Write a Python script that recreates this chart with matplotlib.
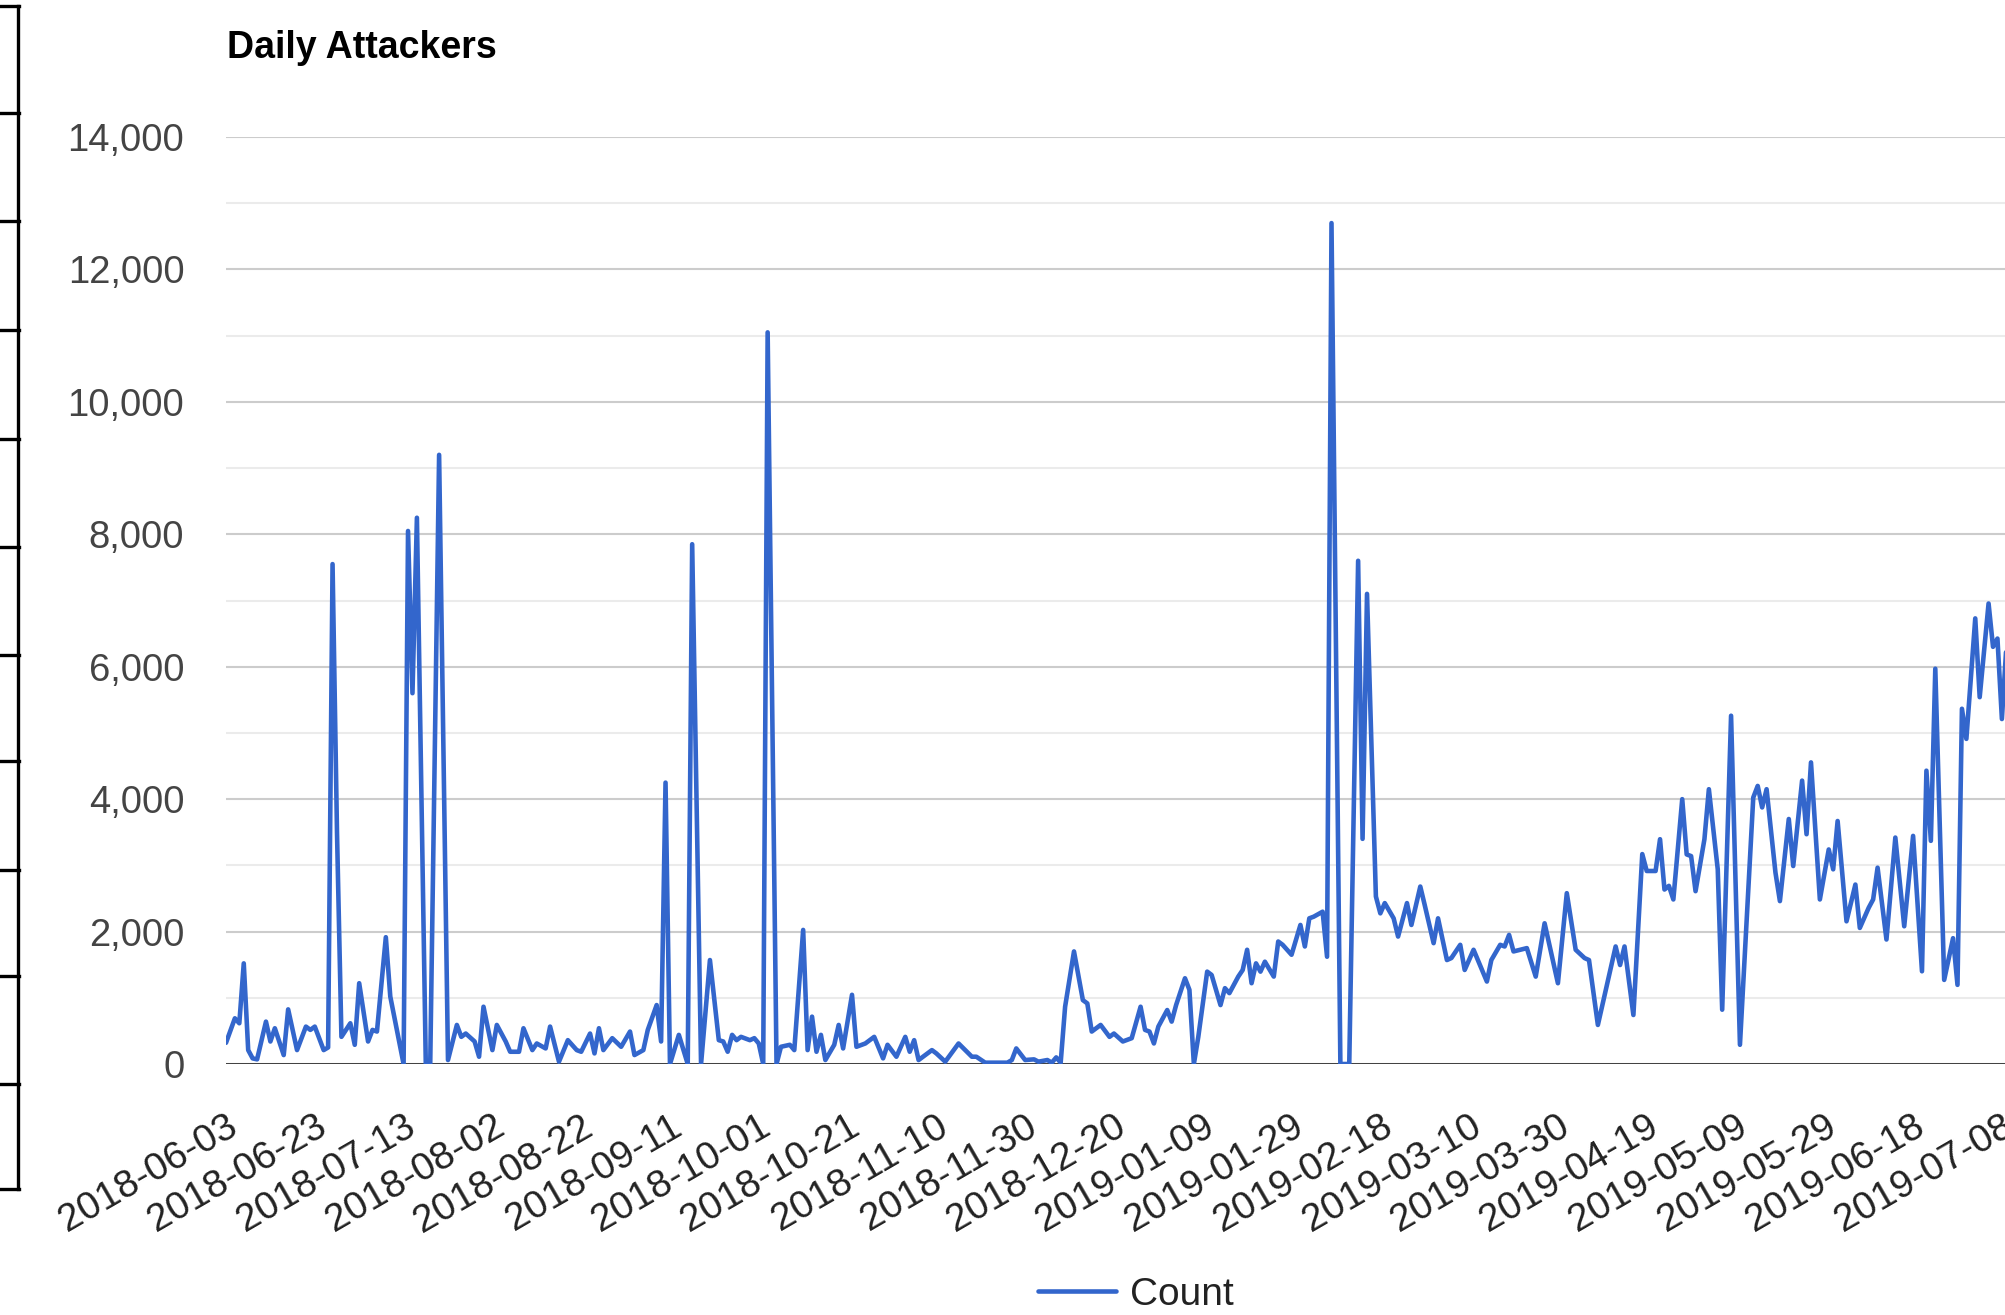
import numpy as np
import matplotlib
matplotlib.use("Agg")
import matplotlib.pyplot as plt
import matplotlib.dates as mdates
from matplotlib.lines import Line2D

# days counted from 2018-06-03
start_date = np.datetime64("2018-06-03")

day_offset = [0, 2, 3, 4, 5, 6, 7, 9, 10, 11, 13, 14, 16, 18, 19, 20, 22, 23, 24, 25, 26,
              28, 29, 30, 32, 33, 34, 36, 37, 39, 40, 41, 42, 43, 45, 46, 48, 50,
              52, 53, 54, 56, 57, 58, 60, 61, 63, 64, 66, 67, 69, 70, 72, 73, 75, 77, 79,
              80, 82, 83, 84, 85, 87, 89, 91, 92, 94, 95, 97, 98, 99, 100, 102, 104, 105,
              107, 109, 111, 112, 113, 114, 115, 116, 118, 119, 120, 121, 122, 124, 125,
              127, 128, 130, 131, 132, 133, 134, 135, 137, 138, 139, 141, 142, 144, 146,
              148, 149, 151, 153, 154, 155, 156, 159, 160,
              162, 165, 168, 169, 171, 174, 176, 177, 178, 180, 182, 183, 185, 186, 187,
              188, 189, 191, 193, 194, 195, 197, 199, 200, 202, 204, 206, 207, 208, 209,
              210, 212, 213, 214, 216, 217, 218, 219, 221, 222, 224, 225, 226, 228, 229,
              230, 231, 232, 233, 234, 236, 237, 238, 240, 242, 243, 244,
              245, 247, 248, 249, 251, 253, 255, 256, 257, 259, 260, 261, 263, 264, 266,
              267, 269, 270, 272, 273, 275, 276, 278, 279, 281, 284, 285, 287, 288, 289,
              290, 293, 295, 297, 300, 302, 304, 306, 307, 309, 313, 314, 315, 317,
              319, 320, 322, 323, 324, 325, 326, 328, 329, 330, 331, 333, 334, 336, 337,
              339, 341, 344, 345, 346, 347, 349, 350, 352, 353, 355, 356, 357, 359, 361,
              362, 363, 365, 367, 368, 370, 371, 372, 374, 376, 378, 380, 382, 383, 384,
              385, 387, 389, 390, 391, 392, 394, 395, 397, 398, 399, 400, 401]

count = [320, 690, 615, 1520, 210, 85, 70, 640, 340, 540, 135, 825, 210, 565, 515, 565, 210, 250, 7550, 3500, 410,
         615, 290, 1220, 340, 515, 490, 1915, 1020, 340, 0, 8050, 5600, 8250, 0, 0, 9200, 60,
         590, 410, 460, 340, 110, 865, 210, 590, 340, 185, 185, 540, 210, 310, 235, 565, 35, 360, 210,
         185, 460, 160, 540, 210, 390, 260, 490, 135, 210, 515, 890, 340, 4250, 0, 440, 0, 7850,
         0, 1570, 360, 340, 185, 440, 360, 410, 360, 390, 310, 0, 11050, 0, 260,
         290, 210, 2025, 210, 715, 185, 440, 60, 290, 590, 235, 1045, 260, 310, 410,
         85, 290, 110, 410, 185, 360, 60, 210, 160,
         35, 310, 110, 110, 20, 20, 20, 60, 235, 60, 70, 35, 60, 20, 100,
         20, 865, 1700, 965, 915, 490, 590, 410, 460, 340, 390, 865, 515, 490, 310,
         565, 815, 640, 890, 1295, 1120, 0, 410, 1395, 1345, 890, 1145, 1070, 1320, 1420,
         1725, 1220, 1520, 1395, 1545, 1320, 1850, 1800, 1650, 2100, 1775, 2200,
         2225, 2300, 1620, 12700, 0, 0, 7600, 3400, 7100, 2530, 2275, 2430, 2200, 1925, 2430,
         2100, 2680, 2400, 1825, 2200, 1570, 1600, 1800, 1420, 1725, 1245, 1570, 1800, 1775, 1950,
         1700, 1750, 1320, 2125, 1220, 2580, 1725, 1600, 1570, 590, 1775, 1495, 1775, 740,
         3170, 2915, 2915, 3395, 2635, 2690, 2485, 4000, 3165, 3140, 2610, 3395, 4150, 2940, 820,
         5260, 290, 4025, 4200, 3875, 4150, 2890, 2460, 3700, 2990, 4280, 3470, 4555, 2485, 3240,
         2940, 3670, 2155, 2710, 2055, 2360, 2485, 2965, 1880, 3420, 2080, 3445, 1400, 4430, 3370,
         5970, 1270, 1900, 1195, 5365, 4910, 6730, 5540, 6955, 6300, 6425, 5210, 6300]

y_ticks = [0, 2000, 4000, 6000, 8000, 10000, 12000, 14000]
tick_step_days = 20

W, H = 2005, 1315
fig = plt.figure(figsize=(W / 100, H / 100), dpi=100)
fig.patch.set_facecolor("white")

# plot area: day 0 at x=226px, right side runs off the image; 0 at y=1064px, 14000 at y=137px
ax = fig.add_axes([226 / W, 1 - 1064 / H, 1 - 226 / W, (1064 - 137) / H])

dates = start_date + np.array(day_offset)
x = mdates.date2num(dates.astype("datetime64[D]").astype(object))
x0 = mdates.date2num(start_date.astype(object))

ax.plot(x, count, color="#3366cc", lw=3.3, solid_joinstyle="round",
        solid_capstyle="round", zorder=3, label="Count")
ax.axhline(0, color="#333333", lw=2.0, zorder=2)

ax.set_xlim(x0, x0 + 400.7)
ax.set_ylim(0, 14000)

ax.set_yticks(y_ticks)
ax.set_yticks(np.arange(1000, 14000, 2000), minor=True)
ax.set_yticklabels([f"{v:,}" for v in y_ticks])
ax.grid(True, axis="y", which="major", color="#cccccc", lw=1.5, zorder=0)
ax.grid(True, axis="y", which="minor", color="#ebebeb", lw=1.5, zorder=0)
ax.grid(False, axis="x")

xt = [x0 + k * tick_step_days for k in range(21)]
ax.set_xticks(xt)
ax.set_xticklabels([mdates.num2date(v).strftime("%Y-%m-%d") for v in xt])
for lab in ax.get_xticklabels():
    lab.set_rotation(30)
    lab.set_rotation_mode("anchor")
    lab.set_ha("right")
    lab.set_va("top")

ax.tick_params(axis="y", length=0, pad=30, labelsize=27.5, labelcolor="#444444")
ax.tick_params(axis="y", which="minor", length=0)
ax.tick_params(axis="x", length=0, pad=32, labelsize=28, labelcolor="#222222")
for s in ax.spines.values():
    s.set_visible(False)

fig.text(227 / W, 1 - 48 / H, "Daily Attackers", fontsize=27, fontweight="bold",
         family="Liberation Sans", ha="left", va="center", color="black")

leg = fig.legend(loc="center", bbox_to_anchor=(1136 / W, 1 - 1295 / H), frameon=False,
                 handlelength=2.0, handletextpad=0.35,
                 prop={"family": "Liberation Sans", "size": 28})
for t in leg.get_texts():
    t.set_color("#222222")

for lab in ax.get_xticklabels() + ax.get_yticklabels():
    lab.set_family("Liberation Sans")

# cropped border of a neighbouring box on the left edge
fig.add_artist(Line2D([18 / W, 18 / W], [1 - 6 / H, 1 - 1189 / H], color="black", lw=2.4))
for yp in [6, 113, 221, 330, 439, 547, 655, 761, 870, 976, 1084, 1189]:
    fig.add_artist(Line2D([0, 19 / W], [1 - yp / H, 1 - yp / H], color="black", lw=2.4))

fig.savefig("out.png", dpi=100, facecolor="white")
